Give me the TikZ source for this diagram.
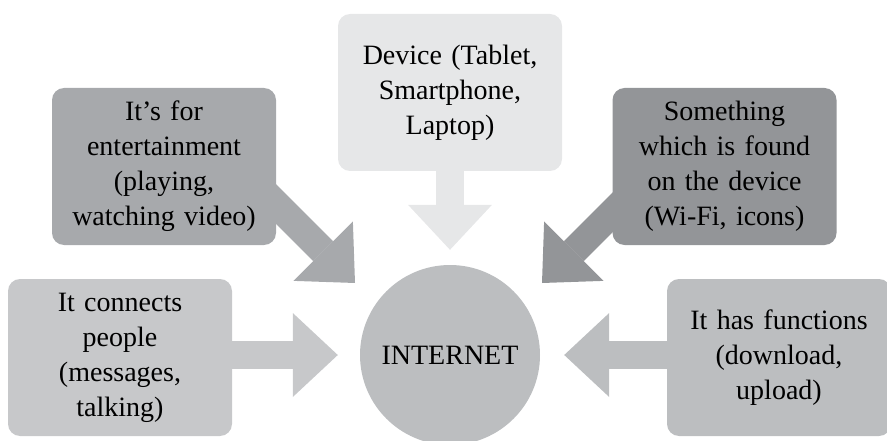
\documentclass[tikz,border=0pt]{standalone}
\usepackage{fontspec}
\setmainfont{Liberation Serif}
\usepackage{xcolor}
\usetikzlibrary{arrows.meta}
\usetikzlibrary{backgrounds, calc}
\definecolor{devgray}{HTML}{E6E7E8}
\definecolor{entgray}{HTML}{A7A9AC}
\definecolor{somgray}{HTML}{939598}
\definecolor{congray}{HTML}{C7C8CA}
\definecolor{fungray}{HTML}{BCBEC0}

\begin{document}
\begin{tikzpicture}[x=1pt,y=1pt,
  infobox/.style={rounded corners=12pt, minimum width=224pt, minimum height=157pt,
    text width=214pt, align=center, inner sep=0pt, font=\fontsize{28}{35}\selectfont},
  fatarrow/.style={line width=28pt, -{Triangle[length=45pt,width=84pt,line width=0pt]}}
]
\useasboundingbox (0,0) rectangle (887,-441);
\clip (0,0) rectangle (887,-441);

\node[infobox, fill=devgray] (dev) at (450,-92.5) {Device (Tablet,\\ Smartphone,\\ Laptop)};
\node[infobox, fill=entgray] (ent) at (164,-166.5) {It's for\\ entertainment\\ (playing,\\ watching video)};
\node[infobox, fill=somgray] (som) at (724.5,-166.5) {Something\\ which is found\\ on the device\\ (Wi-Fi, icons)};
\node[infobox, fill=congray] (con) at (120,-357.5) {It connects\\ people\\ (messages,\\ talking)};
\node[infobox, fill=fungray] (fun) at (779,-357.5) {It has functions\\ (download,\\ upload)};

\node[circle, fill=fungray, minimum size=180pt, inner sep=0pt,
  font=\fontsize{28}{35}\selectfont] (inet) at (450,-355) {INTERNET};

\coordinate (devTip) at ($(inet.north)+(0,15)$);
\coordinate (conTip) at ($(inet.west)+(-22,0)$);
\coordinate (funTip) at ($(inet.east)+(24,0)$);
\coordinate (entTail) at (230,-158);
\coordinate (entTip) at (355,-283);
\coordinate (somTail) at (667,-158);
\coordinate (somTip) at (542,-283);

\begin{scope}[on background layer]
\draw[fatarrow, color=devgray] (dev.center) -- (devTip);
\draw[fatarrow, color=entgray] (entTail) -- (entTip);
\draw[fatarrow, color=somgray] (somTail) -- (somTip);
\draw[fatarrow, color=congray] (con.center |- conTip) -- (conTip);
\draw[fatarrow, color=fungray] (fun.center |- funTip) -- (funTip);
\end{scope}

\end{tikzpicture}
\end{document}
